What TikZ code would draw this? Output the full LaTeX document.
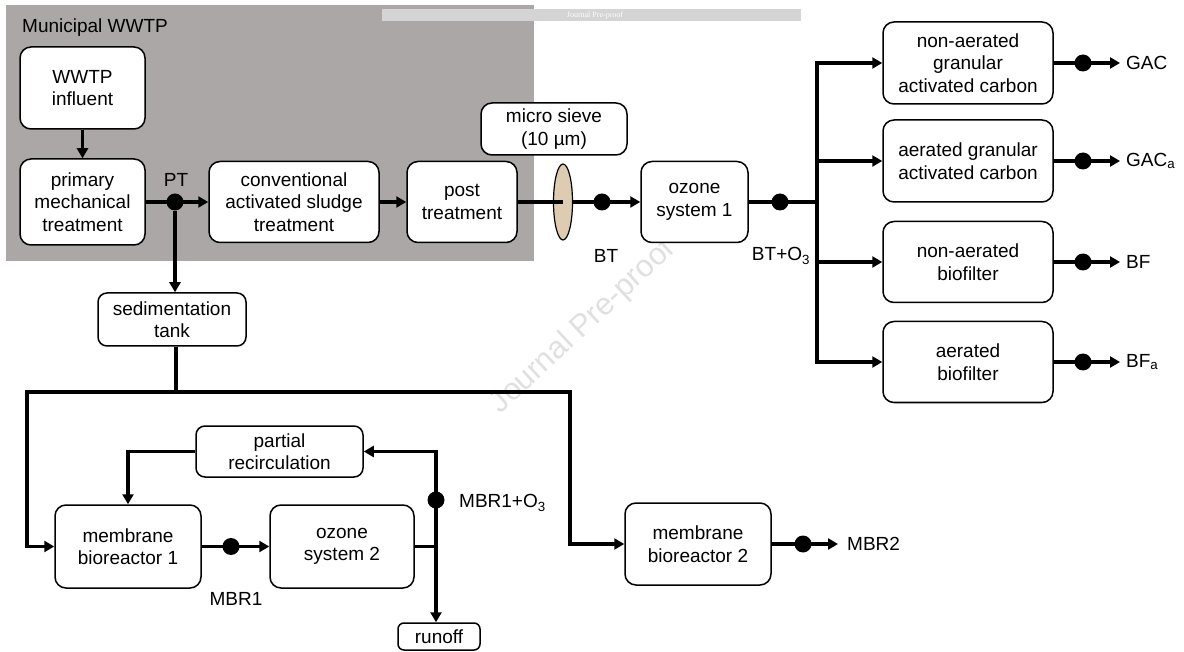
\documentclass[tikz,border=0pt]{standalone}
\usepackage{fontspec}
\setmainfont{Liberation Sans}
\newfontfamily\wmserif{Liberation Serif}
\usetikzlibrary{arrows.meta,shapes.geometric}
\definecolor{plantgrey}{RGB}{171,167,166}
\definecolor{barGrey}{RGB}{212,212,212}
\definecolor{sievefill}{RGB}{222,204,178}
\begin{document}
\begin{tikzpicture}[x=1pt,y=-1pt,
  unit/.style={draw, rounded corners=11pt, line width=1.5pt, fill=white,
    align=center, inner sep=0pt, font=\fontsize{19}{22.5}\selectfont},
  lbl/.style={inner sep=0pt, font=\fontsize{19}{22.5}\selectfont},
  junc/.style={circle, fill=black, inner sep=0pt, minimum size=17pt},
  flow/.style={line width=3.5pt},
  tip/.style={-{Triangle[length=10pt,width=11pt]}},
  twotip/.style={{Triangle[length=10pt,width=11pt]}-{Triangle[length=10pt,width=11pt]}},
]
\useasboundingbox (0,0) rectangle (1184,652);

% municipal plant area
\fill[plantgrey] (6,5) rectangle (534,261);
\node[lbl, anchor=west] (plant) at (22,28) {Municipal WWTP};

% header bar
\fill[barGrey] (382,9) rectangle (801,21);
\node[inner sep=0pt, text=white, font=\wmserif\fontsize{8}{8}\selectfont] (hdr) at (595,15.5) {Journal Pre-proof};

% diagonal stamp
\node[inner sep=0pt, rotate=43, text=black!12, font=\fontsize{31}{31}\selectfont] (stamp) at (583,327) {Journal Pre-proof};

% main line
\node[unit, minimum width=125pt, minimum height=82pt] (infl) at (82.5,88) {WWTP\\influent};
\node[unit, minimum width=125pt, minimum height=86pt] (prim) at (82.5,202) {primary\\mechanical\\treatment};
\node[unit, minimum width=170pt, minimum height=81pt] (cas) at (294,202) {conventional\\activated sludge\\treatment};
\node[unit, minimum width=110pt, minimum height=81pt] (post) at (462,202) {post\\treatment};
\node[unit, minimum width=146pt, minimum height=52pt] (msbox) at (554,129) {micro sieve\\(10 µm)};
\node[ellipse, draw, line width=1.2pt, fill=sievefill, minimum width=19pt, minimum height=76pt, inner sep=0pt] (sieve) at (563,202) {};
\node[unit, minimum width=107pt, minimum height=81pt] (oz1) at (694.5,202) {ozone\\system 1};

% post-treatment branches
\node[unit, minimum width=170pt, minimum height=82pt] (nagac) at (968,63) {non-aerated\\granular\\activated carbon};
\node[unit, minimum width=170pt, minimum height=82pt] (agac) at (968,161) {aerated granular\\activated carbon};
\node[unit, minimum width=170pt, minimum height=81pt] (nabf) at (968,262) {non-aerated\\biofilter};
\node[unit, minimum width=170pt, minimum height=81pt] (abf) at (968,362) {aerated\\biofilter};

% pilot line
\node[unit, rounded corners=9pt, minimum width=148pt, minimum height=53pt] (sed) at (172,319.5) {sedimentation\\tank};
\node[unit, rounded corners=9pt, minimum width=167pt, minimum height=51pt] (recirc) at (279.5,451.5) {partial\\recirculation};
\node[unit, minimum width=146pt, minimum height=83pt] (mbr1) at (128,546.5) {membrane\\bioreactor 1};
\node[unit, minimum width=144pt, minimum height=83pt] (oz2) at (342,546.5) {ozone\\system 2};
\node[unit, rounded corners=6pt, minimum width=82pt, minimum height=27pt] (runoff) at (439,636.5) {runoff};
\node[unit, minimum width=146pt, minimum height=82pt] (mbr2) at (698,544) {membrane\\bioreactor 2};

% sampling points
\node[junc] (pt) at (175,202) {};
\node[junc] (bt) at (602,202) {};
\node[junc] (bto3) at (780,202) {};
\node[junc] (dgac) at (1083,63) {};
\node[junc] (dgaca) at (1083,161) {};
\node[junc] (dbf) at (1083,262) {};
\node[junc] (dbfa) at (1083,362) {};
\node[junc] (dmbr1) at (231,546.5) {};
\node[junc] (dmbro3) at (436,500) {};
\node[junc] (dmbr2) at (803,544) {};

% sampling labels
\node[lbl] (lpt) at (176,180) {PT};
\node[lbl] (lbt) at (606,256) {BT};
\node[lbl] (lbto3) at (781,256) {BT+O\textsubscript{3}};
\node[lbl, anchor=west] (lgac) at (1126,63) {GAC};
\node[lbl, anchor=west] (lgaca) at (1126,161) {GAC\textsubscript{a}};
\node[lbl, anchor=west] (lbf) at (1126,262) {BF};
\node[lbl, anchor=west] (lbfa) at (1126,362) {BF\textsubscript{a}};
\node[lbl] (lmbr1) at (236,599) {MBR1};
\node[lbl, anchor=west] (lmbro3) at (459,503) {MBR1+O\textsubscript{3}};
\node[lbl, anchor=west] (lmbr2) at (847,544) {MBR2};

% junction coordinates
\coordinate (fork) at (817,202);
\coordinate (busM) at (176,392);
\coordinate (busL) at (27,392);
\coordinate (busR) at (570,392);
\coordinate (jtop) at (436,451.5);
\coordinate (ogac) at (1120,63);
\coordinate (ogaca) at (1120,161);
\coordinate (obf) at (1120,262);
\coordinate (obfa) at (1120,362);
\coordinate (ombr2) at (838,544);

% connectors: main line
\draw[flow, tip] (infl) -- (prim);
\draw[flow, tip] (prim.east |- pt) -- (cas.west |- pt);
\draw[flow, tip] (cas) -- (post);
\draw[flow] (post.east) -- (sieve.center);
\draw[flow, tip] (sieve.east) -- (oz1.west);
\draw[flow] (oz1.east) -- (fork);
\draw[flow, tip] (fork) -- (fork |- nagac) -- (nagac.west);
\draw[flow, tip] (fork |- agac) -- (agac.west);
\draw[flow, tip] (fork |- nabf) -- (nabf.west);
\draw[flow, tip] (fork) -- (fork |- abf) -- (abf.west);
\draw[flow, tip] (nagac.east) -- (ogac);
\draw[flow, tip] (agac.east) -- (ogaca);
\draw[flow, tip] (nabf.east) -- (obf);
\draw[flow, tip] (abf.east) -- (obfa);

% connectors: pilot line
\draw[flow, tip] (pt) -- (pt |- sed.north);
\draw[flow] (busM |- sed.south) -- (busM);
\draw[flow, tip] (busM) -- (busL) |- (mbr1.west);
\draw[flow, tip] (busM) -- (busR) |- (mbr2.west);
\draw[flow, tip] (mbr1) -- (oz2);
\draw[flow] (oz2.east) -- (oz2.east -| jtop);
\draw[flow, twotip] (recirc.east) -- (jtop) -- (jtop |- runoff.north);
\draw[flow, tip] (recirc.west) -| (mbr1.north);
\draw[flow, tip] (mbr2.east) -- (ombr2);
\end{tikzpicture}
\end{document}
